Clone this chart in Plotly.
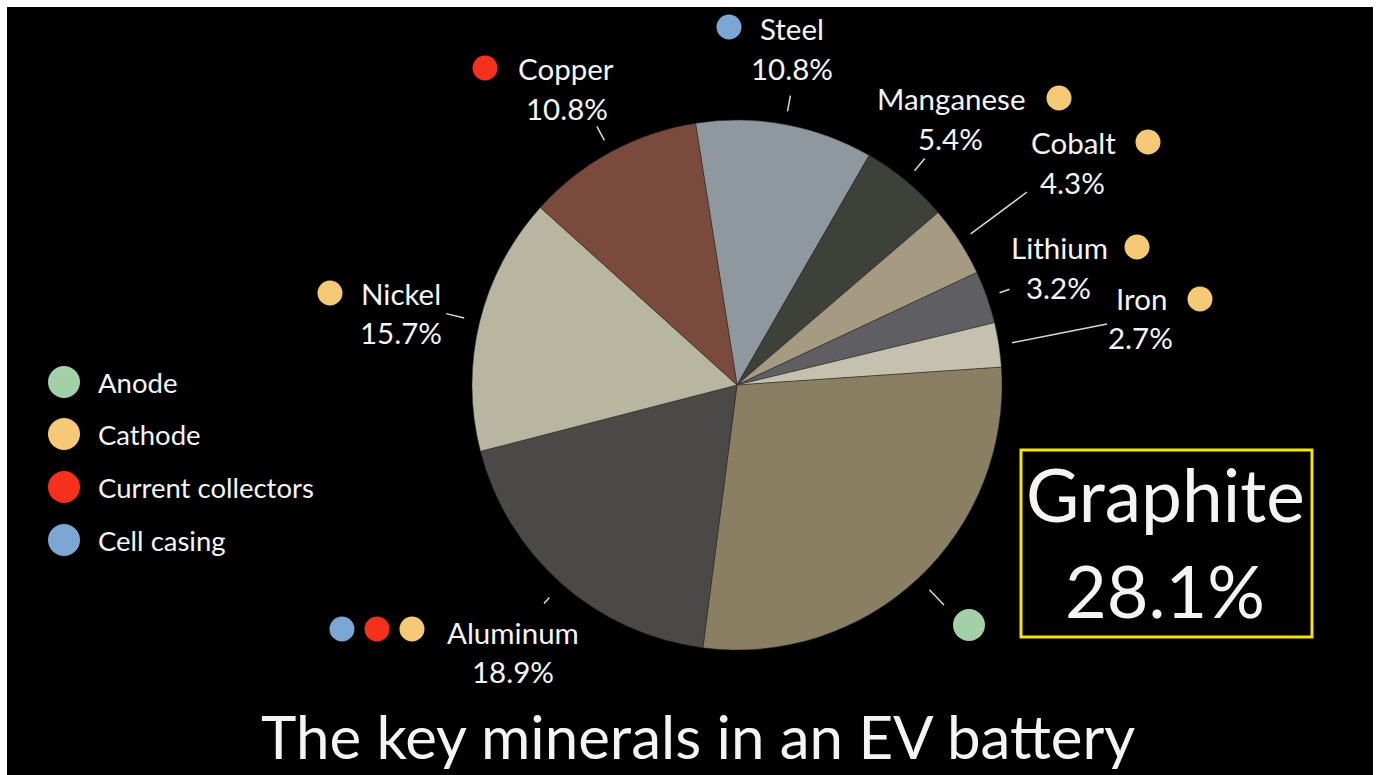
import math
import plotly.graph_objects as go

# ---------------- data ----------------
minerals = ["Steel", "Manganese", "Cobalt", "Lithium", "Iron",
            "Graphite", "Aluminum", "Nickel", "Copper"]
shares = [10.8, 5.4, 4.3, 3.2, 2.7, 28.1, 18.9, 15.7, 10.8]
slice_colors = ["#8f989f", "#3e4139", "#a69a82", "#5f5e63", "#c6c1ae",
                "#8b7f63", "#4b4948", "#b8b5a1", "#7a4b3d"]

components = ["Anode", "Cathode", "Current collectors", "Cell casing"]
component_colors = ["#a3d0a6", "#f6c976", "#f5301c", "#7ca7d4"]
mineral_components = {
    "Steel": ["Cell casing"],
    "Manganese": ["Cathode"],
    "Cobalt": ["Cathode"],
    "Lithium": ["Cathode"],
    "Iron": ["Cathode"],
    "Graphite": ["Anode"],
    "Aluminum": ["Cell casing", "Current collectors", "Cathode"],
    "Nickel": ["Cathode"],
    "Copper": ["Current collectors"],
}
title_text = "The key minerals in an EV battery"

# ---------------- layout constants (pixels) ----------------
W, H = 1376, 775
CX, CY, R = 737, 385, 265
ROTATION = -9
FONT = "Lato"
WHITE = "#f4f4f4"
LABEL_SIZE = 29.5


def px(x):
    return x / W


def py(y):
    return 1 - y / H


# label layout: name centre, percent centre, dot centres
label_pos = {
    "Steel":     dict(name=(792, 28),  pct=(792, 68),  dots=[(729, 27)]),
    "Manganese": dict(name=(951, 99),  pct=(951, 139), dots=[(1059, 98)]),
    "Cobalt":    dict(name=(1073, 142), pct=(1072, 182), dots=[(1148, 142)]),
    "Lithium":   dict(name=(1059, 247), pct=(1058, 287), dots=[(1137, 247)]),
    "Iron":      dict(name=(1141, 298), pct=(1140, 337), dots=[(1200, 299)]),
    "Aluminum":  dict(name=(513, 632), pct=(513, 671), dots=[(342, 629), (377, 629), (412, 629)]),
    "Nickel":    dict(name=(401, 293), pct=(401, 332), dots=[(330, 293)]),
    "Copper":    dict(name=(566, 69),  pct=(567, 109), dots=[(485, 68)]),
    "Graphite":  dict(dots=[(969, 625)]),
}
# leader lines: (start radius factor, end radius factor or end pixel)
leaders = {
    "Steel": (1.05, 1.11),
    "Manganese": (1.05, 1.11),
    "Cobalt": (1.05, (1027, 192)),
    "Lithium": (1.05, 1.09),
    "Iron": (1.05, (1107, 324)),
    "Graphite": (1.06, 1.14),
    "Aluminum": (1.07, 1.10),
    "Nickel": (1.06, 1.13),
    "Copper": (1.05, 1.11),
}

fig = go.Figure()
fig.add_trace(go.Pie(
    labels=minerals, values=shares, sort=False, direction="clockwise",
    rotation=ROTATION, textinfo="none", hoverinfo="label+value",
    marker=dict(colors=slice_colors, line=dict(color="#2a2a2a", width=0.5)),
    domain=dict(x=[px(CX - R), px(CX + R)], y=[py(CY + R), py(CY - R)]),
    showlegend=False,
))

shapes = []
annotations = []

# leader lines computed from slice mid-angles
total = sum(shares)
cum = 0.0
for name, v in zip(minerals, shares):
    mid = math.radians(ROTATION + 360 * (cum + v / 2) / total)
    cum += v
    r0, end = leaders[name]
    x0 = CX + r0 * R * math.sin(mid)
    y0 = CY - r0 * R * math.cos(mid)
    if isinstance(end, tuple):
        x1, y1 = end
    else:
        x1 = CX + end * R * math.sin(mid)
        y1 = CY - end * R * math.cos(mid)
    shapes.append(dict(type="line", xref="paper", yref="paper",
                       x0=px(x0), y0=py(y0), x1=px(x1), y1=py(y1),
                       line=dict(color="#d8d8d8", width=1.5)))


def dot(cx, cy, r, color):
    return dict(type="circle", xref="paper", yref="paper",
                x0=px(cx - r), x1=px(cx + r), y0=py(cy + r), y1=py(cy - r),
                fillcolor=color, line=dict(width=0))


comp_color = dict(zip(components, component_colors))
for name, v in zip(minerals, shares):
    lp = label_pos[name]
    for (dx, dy), comp in zip(lp["dots"], mineral_components[name]):
        rad = 16 if name == "Graphite" else 12.5
        shapes.append(dot(dx, dy, rad, comp_color[comp]))
    if "name" in lp:
        annotations.append(dict(x=px(lp["name"][0]), y=py(lp["name"][1]), xref="paper", yref="paper",
                                text=name, showarrow=False, xanchor="center", yanchor="middle",
                                font=dict(family=FONT, size=LABEL_SIZE, color=WHITE)))
        annotations.append(dict(x=px(lp["pct"][0]), y=py(lp["pct"][1]), xref="paper", yref="paper",
                                text=f"{v:.1f}%", showarrow=False, xanchor="center", yanchor="middle",
                                font=dict(family=FONT, size=LABEL_SIZE, color=WHITE)))

# Graphite highlight box
g_idx = minerals.index("Graphite")
shapes.append(dict(type="rect", xref="paper", yref="paper",
                   x0=px(1021), x1=px(1312), y0=py(637), y1=py(450),
                   line=dict(color="#f2e40c", width=3)))
annotations.append(dict(x=px(1165), y=py(494), xref="paper", yref="paper",
                        text=minerals[g_idx], showarrow=False, xanchor="center", yanchor="middle",
                        font=dict(family=FONT, size=73, color=WHITE)))
annotations.append(dict(x=px(1165), y=py(590), xref="paper", yref="paper",
                        text=f"{shares[g_idx]:.1f}%", showarrow=False, xanchor="center", yanchor="middle",
                        font=dict(family=FONT, size=72, color=WHITE)))

# component legend
legend_y = [382, 434, 487, 540]
for comp, col, ly in zip(components, component_colors, legend_y):
    shapes.append(dot(64, ly, 16, col))
    annotations.append(dict(x=px(96), y=py(ly), xref="paper", yref="paper",
                            text=comp, showarrow=False, xanchor="left", yanchor="middle",
                            font=dict(family=FONT, size=27.5, color=WHITE)))

# title
annotations.append(dict(x=px(698), y=py(736), xref="paper", yref="paper",
                        text=title_text, showarrow=False, xanchor="center", yanchor="middle",
                        font=dict(family=FONT, size=60, color=WHITE)))

# white frame strips (top, left, right)
for (a, b, c, d) in [(0, 0, W, 7), (0, 0, 7, H), (1373, 0, W, H)]:
    shapes.append(dict(type="rect", xref="paper", yref="paper",
                       x0=px(a), x1=px(c), y0=py(d), y1=py(b),
                       fillcolor="white", line=dict(width=0), layer="above"))

fig.update_layout(
    width=W, height=H,
    margin=dict(l=0, r=0, t=0, b=0),
    paper_bgcolor="black", plot_bgcolor="black",
    shapes=shapes, annotations=annotations,
    showlegend=False,
)

fig.write_html("out.html", config={"displayModeBar": False},
               post_script="document.body.style.margin='0';document.body.style.overflow='hidden';")
